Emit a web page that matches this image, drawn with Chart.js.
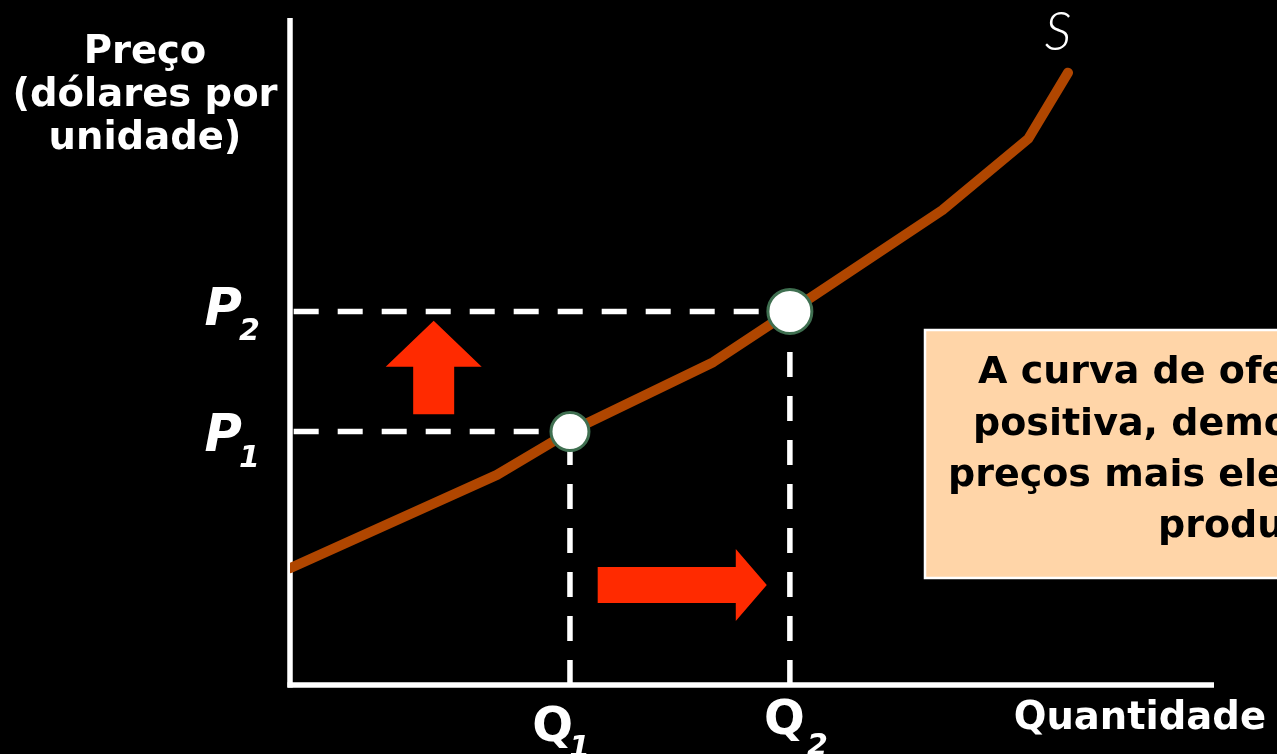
<!DOCTYPE html>
<html>
<head>
<meta charset="utf-8">
<script src="https://cdn.jsdelivr.net/npm/chart.js@4.4.1/dist/chart.umd.min.js"></script>
<style>
  html, body { margin: 0; padding: 0; background: #000; overflow: hidden; }
  #supplyChart { display: block; }
</style>
</head>
<body>
<canvas id="supplyChart" width="1277" height="754"></canvas>
<script>
// supply curve, quantity vs. price (0..100 on both axes)
const supplyQ = [0, 22.4, 30.3, 45.8, 54.1, 70.6, 79.9, 84.2];
const supplyP = [17.5, 31.5, 38, 48.4, 56, 71.2, 81.9, 91.8];

// the two equilibrium points
const pointLabels = ["1", "2"];
const pointQ = [30.3, 54.1];
const pointP = [38, 56];

const axisTitleY = ["Preço", "(dólares por", "unidade)"];
const axisTitleX = "Quantidade";
const curveName = "S";
const noteLines = [
  "A curva de oferta tem inclinação",
  "positiva, demonstrando que a",
  "preços mais elevados as empresas",
  "produzirão mais.",
];

const WHITE = "#ffffff";
const CURVE = "#b04600";
const ARROW = "#ff2a00";
const NOTE_BG = "#ffd5a8";

const pts = (xs, ys) => xs.map((x, i) => ({ x, y: ys[i] }));

const guides = [];
pointQ.forEach((q, i) => {
  guides.push({ data: [{ x: 0.4, y: pointP[i] }, { x: q, y: pointP[i] }] });
  guides.push({ data: [{ x: q, y: 0 }, { x: q, y: pointP[i] }] });
});

function line(ctx, x1, y1, x2, y2) {
  ctx.beginPath();
  ctx.moveTo(x1, y1);
  ctx.lineTo(x2, y2);
  ctx.stroke();
}

const decorations = {
  id: "decorations",
  beforeDatasetsDraw(chart) {
    const { ctx, scales: { x, y } } = chart;
    ctx.save();
    // axes
    ctx.strokeStyle = WHITE;
    ctx.lineWidth = 5.5;
    ctx.lineCap = "butt";
    line(ctx, x.getPixelForValue(0), y.getPixelForValue(100), x.getPixelForValue(0), y.getPixelForValue(0) + 2.5);
    line(ctx, x.getPixelForValue(0) - 2.5, y.getPixelForValue(0), x.getPixelForValue(100), y.getPixelForValue(0));

    // arrow up, between P1 and P2
    ctx.fillStyle = ARROW;
    const ax = x.getPixelForValue(pointQ[0] / 2 + 0.4);
    const aTop = y.getPixelForValue(pointP[1] - 1.4);
    const aBot = y.getPixelForValue(pointP[0] + 2.6);
    ctx.beginPath();
    ctx.moveTo(ax, aTop);
    ctx.lineTo(ax + 48, aTop + 46);
    ctx.lineTo(ax + 20.5, aTop + 46);
    ctx.lineTo(ax + 20.5, aBot);
    ctx.lineTo(ax - 20.5, aBot);
    ctx.lineTo(ax - 20.5, aTop + 46);
    ctx.lineTo(ax - 48, aTop + 46);
    ctx.closePath();
    ctx.fill();

    // arrow right, between Q1 and Q2
    const bx0 = x.getPixelForValue(pointQ[0] + 3);
    const bx1 = x.getPixelForValue(pointQ[1] - 2.5);
    const by = y.getPixelForValue(15);
    ctx.beginPath();
    ctx.moveTo(bx1, by);
    ctx.lineTo(bx1 - 31, by - 36);
    ctx.lineTo(bx1 - 31, by - 18);
    ctx.lineTo(bx0, by - 18);
    ctx.lineTo(bx0, by + 18);
    ctx.lineTo(bx1 - 31, by + 18);
    ctx.lineTo(bx1 - 31, by + 36);
    ctx.closePath();
    ctx.fill();
    ctx.restore();
  },
  afterDatasetsDraw(chart) {
    const { ctx, scales: { x, y } } = chart;
    ctx.save();
    ctx.fillStyle = WHITE;
    ctx.textBaseline = "alphabetic";

    // vertical axis title
    ctx.font = "bold 38.5px 'DejaVu Sans'";
    ctx.textAlign = "center";
    [63, 106, 149].forEach((b, i) => ctx.fillText(axisTitleY[i], 145, b));

    // horizontal axis title
    ctx.textAlign = "right";
    ctx.font = "bold 38.5px 'DejaVu Sans'";
    ctx.fillText(axisTitleX, 1266, 729);

    // curve name
    ctx.textAlign = "center";
    ctx.font = "italic 300 54px Lato, 'DejaVu Sans'";
    ctx.fillText(curveName, x.getPixelForValue(83.1), 50);

    // P and Q tick labels
    pointLabels.forEach((s, i) => {
      const py = y.getPixelForValue(pointP[i]);
      ctx.textAlign = "right";
      ctx.font = "italic bold 51px 'DejaVu Sans'";
      ctx.fillText("P", 242, py + 14 + (i === 0 ? 5 : 0));
      ctx.textAlign = "left";
      ctx.font = "italic bold 30px 'DejaVu Sans'";
      ctx.fillText(s, 239, py + 29 + (i === 0 ? 6 : 0));

      const qx = x.getPixelForValue(pointQ[i]);
      ctx.textAlign = "right";
      ctx.font = "bold 48px 'DejaVu Sans'";
      ctx.fillText("Q", qx + 3 + (i === 1 ? 12 : 0), i === 0 ? 741 : 734);
      ctx.textAlign = "left";
      ctx.font = "italic bold 30px 'DejaVu Sans'";
      ctx.fillText(s, qx - 1 + (i === 1 ? 18 : 0), i === 0 ? 757 : 755);
    });

    // explanatory note, runs off the right edge
    ctx.fillStyle = NOTE_BG;
    ctx.fillRect(925, 330, 700, 248);
    ctx.strokeStyle = WHITE;
    ctx.lineWidth = 2.5;
    ctx.strokeRect(925, 330, 700, 248);
    ctx.fillStyle = "#000";
    ctx.textAlign = "left";
    ctx.font = "bold 38px 'DejaVu Sans'";
    const starts = [978, 973, 948, 1158];
    const bases = [383, 435, 486, 537];
    noteLines.forEach((t, i) => ctx.fillText(t, starts[i], bases[i]));
    ctx.restore();
  },
};

new Chart(document.getElementById("supplyChart"), {
  type: "scatter",
  data: {
    datasets: [
      {
        label: "equilíbrio",
        data: pts(pointQ, pointP),
        showLine: false,
        pointRadius: [19, 22],
        pointBackgroundColor: WHITE,
        pointBorderColor: "#3f6f50",
        pointBorderWidth: 3,
      },
      {
        label: curveName,
        data: pts(supplyQ, supplyP),
        showLine: true,
        borderColor: CURVE,
        borderWidth: 10,
        borderCapStyle: "round",
        borderJoinStyle: "round",
        pointRadius: 0,
        tension: 0,
      },
      ...guides.map((g) => ({
        label: "guia",
        data: g.data,
        showLine: true,
        borderColor: WHITE,
        borderWidth: 5.5,
        borderDash: [25, 19],
        pointRadius: 0,
      })),
    ],
  },
  options: {
    responsive: false,
    animation: false,
    layout: { autoPadding: false, padding: { left: 290, right: 63, top: 18, bottom: 69 } },
    plugins: { legend: { display: false }, tooltip: { enabled: false } },
    scales: {
      x: { type: "linear", min: 0, max: 100, display: false },
      y: { type: "linear", min: 0, max: 100, display: false },
    },
  },
  plugins: [decorations],
});
</script>
</body>
</html>
